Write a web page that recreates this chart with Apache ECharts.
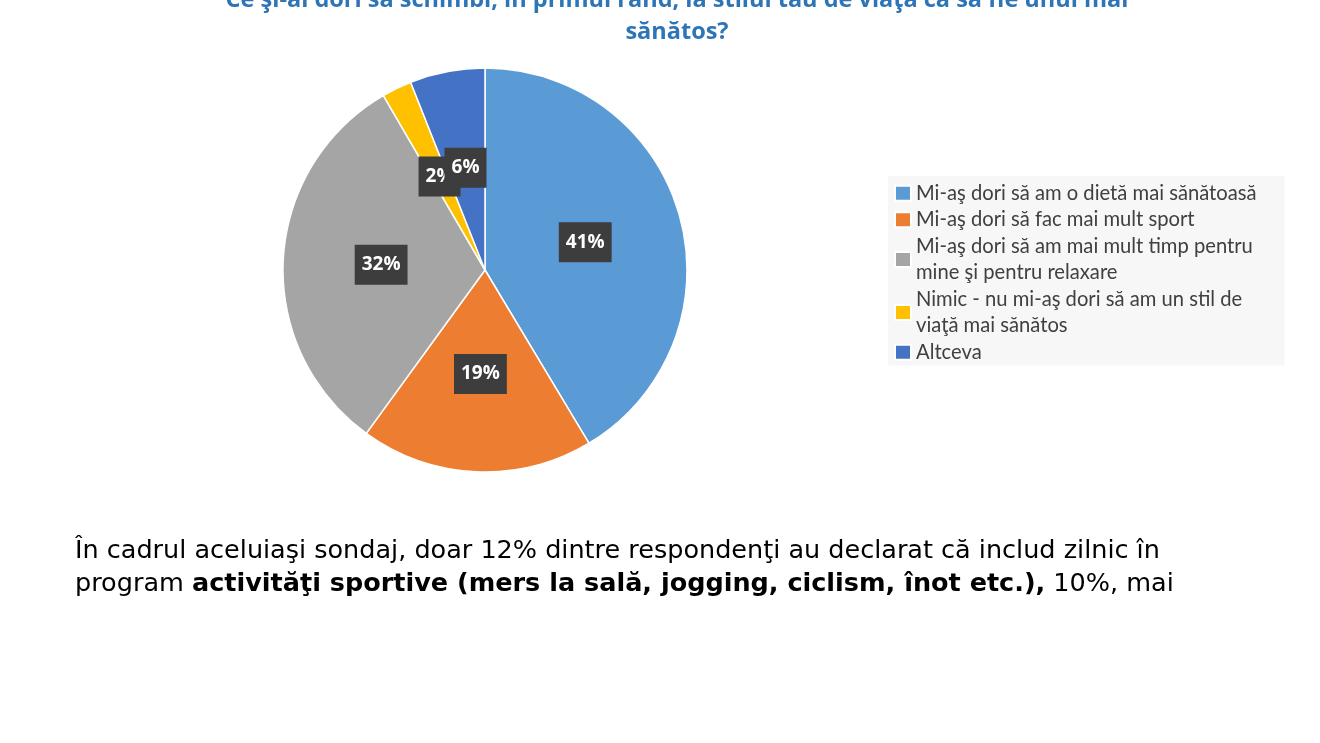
<!DOCTYPE html>
<html><head><meta charset="utf-8">
<script src="https://cdn.jsdelivr.net/npm/echarts@6/dist/echarts.min.js"></script>
<style>html,body{margin:0;padding:0;background:#fff;}#c{width:1320px;height:743px;}</style>
</head><body><div id="c"></div>
<script>
const titleLine1 = "Ce şi-ai dori să schimbi, în primul rând, la stilul tău de viaţă ca să fie unul mai";
const titleLine2 = "sănătos?";
const categories = [
  "Mi-aş dori să am o dietă mai sănătoasă",
  "Mi-aş dori să fac mai mult sport",
  "Mi-aş dori să am mai mult timp pentru\nmine şi pentru relaxare",
  "Nimic - nu mi-aş dori să am un stil de\nviaţă mai sănătos",
  "Altceva"
];
const values = [41.4, 18.6, 31.6, 2.4, 6.0];
const colors = ["#5B9BD5", "#ED7D31", "#A5A5A5", "#FFC000", "#4472C4"];
const paraLine1 = "În cadrul aceluiaşi sondaj, doar 12% dintre respondenţi au declarat că includ zilnic în";
const paraLine2a = "program ";
const paraLine2b = "activităţi sportive (mers la sală, jogging, ciclism, înot etc.),";
const paraLine2c = " 10%, mai";

const chart = echarts.init(document.getElementById('c'));
const titleStyle = {fontFamily: 'Open Sans', fontWeight: 'bold', fontSize: 23.5, fill: '#2E75B6', align: 'center', verticalAlign: 'middle'};
chart.setOption({
  backgroundColor: '#ffffff',
  animation: false,
  legend: {
    orient: 'vertical',
    left: 888,
    top: 176,
    data: categories,
    icon: 'rect',
    itemWidth: 16,
    itemHeight: 15,
    itemGap: 0,
    padding: [4, 28, 0, 6],
    backgroundColor: '#f7f7f7',
    textStyle: {fontFamily: 'Lato', fontSize: 20.2, color: '#404040', lineHeight: 26.5},
    selectedMode: false
  },
  series: [{
    type: 'pie',
    center: [485, 270],
    radius: [0, 202],
    startAngle: 90,
    clockwise: true,
    data: categories.map((c, i) => ({name: c, value: values[i], itemStyle: {color: colors[i]}})),
    itemStyle: {borderColor: '#ffffff', borderWidth: 1.5},
    label: {
      show: true,
      position: 'inside',
      formatter: p => Math.round(p.value) + '%',
      color: '#ffffff',
      fontFamily: 'Open Sans',
      fontWeight: 'bold',
      fontSize: 19,
      backgroundColor: '#3d3d3d',
      padding: [12, 7, 9, 7]
    },
    labelLine: {show: false},
    labelLayout: {hideOverlap: false},
    emphasis: {disabled: true}
  }],
  graphic: [
    {type: 'text', x: 677, y: 0, style: Object.assign({text: titleLine1}, titleStyle)},
    {type: 'text', x: 677, y: 32, style: Object.assign({text: titleLine2}, titleStyle)},
    {type: 'text', left: 75, top: 538, style: {text: paraLine1, fontFamily: 'DejaVu Sans', fontSize: 25.5, fill: '#000'}},
    {type: 'text', left: 75, top: 571, style: {
      text: '{n|' + paraLine2a + '}{b|' + paraLine2b + '}{n|' + paraLine2c + '}',
      rich: {
        n: {fontFamily: 'DejaVu Sans', fontSize: 25.5, color: '#000'},
        b: {fontFamily: 'DejaVu Sans', fontWeight: 'bold', fontSize: 25.5, color: '#000'}
      }
    }}
  ]
});
</script></body></html>
